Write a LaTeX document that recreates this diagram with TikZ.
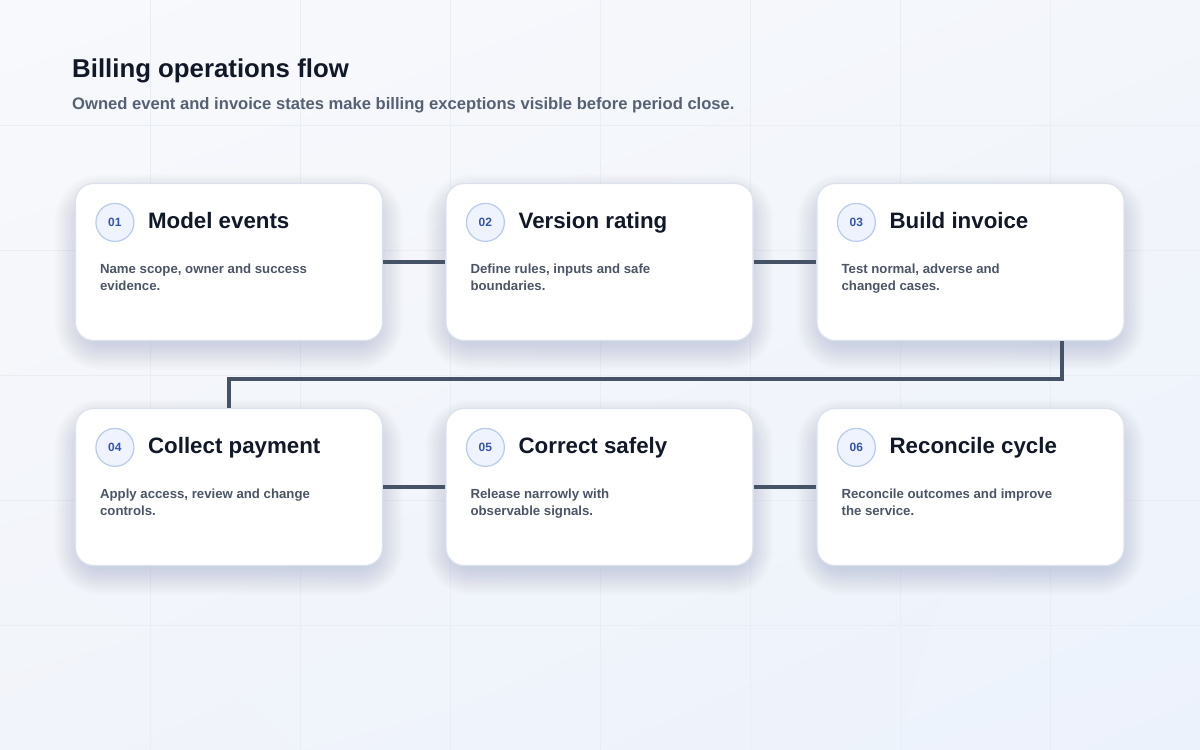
\documentclass[tikz,border=0pt]{standalone}
\usepackage{fontspec}
\setmainfont{Liberation Sans}
\usetikzlibrary{calc,shadings}
\definecolor{bgTL}{HTML}{F8F9FC}
\definecolor{bgTR}{HTML}{F3F6FB}
\definecolor{bgBL}{HTML}{F1F4FA}
\definecolor{bgBR}{HTML}{ECF2FC}
\definecolor{gridc}{HTML}{E9EDF4}
\definecolor{cardline}{HTML}{DCE2EC}
\definecolor{titlec}{HTML}{111827}
\definecolor{subc}{HTML}{566173}
\definecolor{descc}{HTML}{4B5565}
\definecolor{numfill}{HTML}{EEF3FD}
\definecolor{numline}{HTML}{B8CBEC}
\definecolor{numtext}{HTML}{3556A8}
\definecolor{connc}{HTML}{465366}
\definecolor{shadowc}{HTML}{4A5670}
\begin{document}
\begin{tikzpicture}[x=1pt,y=-1pt,
  card/.style={draw=cardline, line width=1.2pt, fill=white, rounded corners=18pt,
    minimum width=307pt, minimum height=157pt, inner sep=0pt},
  numc/.style={circle, draw=numline, fill=numfill, line width=1.2pt, minimum size=38pt, inner sep=0pt,
    font=\bfseries\fontsize{12}{12}\selectfont, text=numtext},
  ttl/.style={anchor=base west, inner sep=0pt, text=titlec, font=\bfseries\fontsize{22.3}{26}\selectfont},
  desc/.style={anchor=base west, inner sep=0pt, align=left, text=descc, font=\bfseries\fontsize{13.2}{17}\selectfont},
  conn/.style={draw=connc, line width=3.5pt},
  gridl/.style={draw=gridc, line width=0.8pt},
  shadowl/.style={fill=shadowc, opacity=0.008}
]
\useasboundingbox (0,0) rectangle (1200,750);
\shade[upper left=bgTL, upper right=bgTR, lower left=bgBL, lower right=bgBR] (0,0) rectangle (1200,750);
\foreach \x in {150,300,...,1050} \draw[gridl] (\x,0) -- (\x,750);
\foreach \y in {125,250,...,625} \draw[gridl] (0,\y) -- (1200,\y);

\node[anchor=base west, inner sep=0pt, text=titlec, font=\bfseries\fontsize{25.8}{30}\selectfont] (title) at (72,77) {Billing operations flow};
\node[anchor=base west, inner sep=0pt, text=subc, font=\bfseries\fontsize{16.6}{20}\selectfont] (subtitle) at (72,109) {Owned event and invoice states make billing exceptions visible before period close.};

% soft shadows
\foreach \cx/\cy in {229/262, 599.5/262, 970.5/262, 229/487, 599.5/487, 970.5/487} {
  \foreach \i in {1,...,20} {
    \pgfmathsetmacro\ee{\i*1.4}
    \pgfmathsetmacro\rr{18+\ee}
    \fill[shadowl, rounded corners=\rr pt] (\cx-146-\ee, \cy-70+10-\ee) rectangle (\cx+146+\ee, \cy+70+10+\ee);
  }
}

\node[card] (c1) at (229,262) {};
\node[card] (c2) at (599.5,262) {};
\node[card] (c3) at (970.5,262) {};
\node[card] (c4) at (229,487) {};
\node[card] (c5) at (599.5,487) {};
\node[card] (c6) at (970.5,487) {};

\foreach \c/\n/\t/\d in {
  c1/01/Model events/{Name scope, owner and success\\evidence.},
  c2/02/Version rating/{Define rules, inputs and safe\\boundaries.},
  c3/03/Build invoice/{Test normal, adverse and\\changed cases.},
  c4/04/Collect payment/{Apply access, review and change\\controls.},
  c5/05/Correct safely/{Release narrowly with\\observable signals.},
  c6/06/Reconcile cycle/{Reconcile outcomes and improve\\the service.}} {
  \node[numc] (\c n) at ($(\c.north west)+(40,39.5)$) {\n};
  \node[ttl] (\c t) at ($(\c.north west)+(73,46)$) {\t};
  \node[desc] (\c d) at ($(\c.north west)+(25,108)$) {\d};
}

\draw[conn] (c1.east) -- (c2.west);
\draw[conn] (c2.east) -- (c3.west);
\draw[conn] ([xshift=91.5pt]c3.south) -- ++(0,38) -| (c4.north);
\draw[conn] (c4.east) -- (c5.west);
\draw[conn] (c5.east) -- (c6.west);
\end{tikzpicture}
\end{document}
